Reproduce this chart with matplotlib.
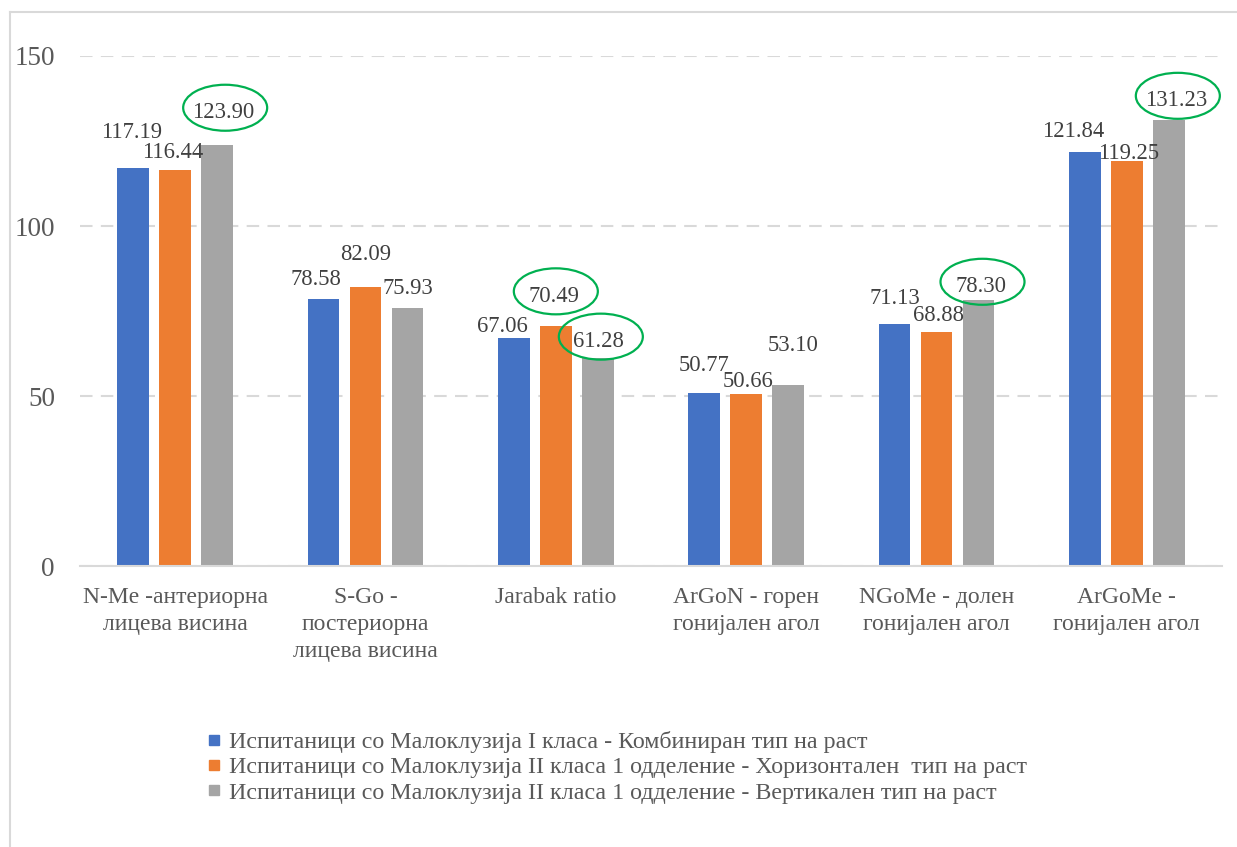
import numpy as np
import matplotlib
matplotlib.use("Agg")
import matplotlib.pyplot as plt
import matplotlib.transforms as mtransforms
from matplotlib.patches import Ellipse
from matplotlib.lines import Line2D

plt.rcParams['font.family'] = ['Liberation Serif', 'DejaVu Serif']

# data
categories = [
    "N-Me -антериорна\nлицева висина",
    "S-Go -\nпостериорна\nлицева висина",
    "Jarabak ratio",
    "ArGoN - горен\nгонијален агол",
    "NGoMe - долен\nгонијален агол",
    "ArGoMe -\nгонијален агол",
]
series_names = [
    "Испитаници со Малоклузија I класа - Комбиниран тип на раст",
    "Испитаници со Малоклузија II класа 1 одделение - Хоризонтален  тип на раст",
    "Испитаници со Малоклузија II класа 1 одделение - Вертикален тип на раст",
]
class1_combined = [117.19, 78.58, 67.06, 50.77, 71.13, 121.84]
class2_horizontal = [116.44, 82.09, 70.49, 50.66, 68.88, 119.25]
class2_vertical = [123.90, 75.93, 61.28, 53.10, 78.30, 131.23]
y_ticks = [0, 50, 100, 150]

# label placement (pixel offsets from bar top) and circled labels
label_offsets = [
    [(-2, 35), (-8, 19), (-11, 11), (0, 28), (0, 26), (-12, 20)],
    [(-2, 18), (0, 32), (-2, 30), (2, 12), (2, 16), (2, 7)],
    [(6, 32), (0, 19), (1, 16), (5, 40), (2, 13), (7, 19)],
]
circled = {(2, 0), (1, 2), (2, 2), (2, 4), (2, 5)}

colors = ['#4472C4', '#ED7D31', '#A5A5A5']
text_dark = '#404040'
text_gray = '#595959'
grid_col = '#D9D9D9'

W, H = 1237, 847
fig = plt.figure(figsize=(W / 100, H / 100), dpi=100)
ax = fig.add_axes([80 / W, 1 - 566 / H, (1222 - 80) / W, (566 - 56) / H])

# outer chart frame
fig.add_artist(Line2D([10 / W, 10 / W], [0, 1 - 12 / H], color=grid_col, lw=1.5,
                      transform=fig.transFigure))
fig.add_artist(Line2D([10 / W, 1], [1 - 12 / H, 1 - 12 / H], color=grid_col, lw=1.5,
                      transform=fig.transFigure))

x = np.arange(len(categories))
step = 0.2207
width = 0.168
all_series = [class1_combined, class2_horizontal, class2_vertical]

for i, vals in enumerate(all_series):
    xs = x + (i - 1) * step
    ax.bar(xs, vals, width=width, color=colors[i], zorder=3, label=series_names[i])
    for j, (xv, v) in enumerate(zip(xs, vals)):
        dx, dy = label_offsets[i][j]
        ax.annotate(f"{v:.2f}", xy=(xv, v), xytext=(dx, dy), textcoords='offset pixels',
                    ha='center', va='center', fontsize=16.3, color=text_dark, zorder=5)
        if (i, j) in circled:
            tr = mtransforms.Affine2D().translate(dx + 2, dy + 5) + \
                mtransforms.ScaledTranslation(xv, v, ax.transData)
            ax.add_patch(Ellipse((0, 0), 84, 46, fill=False, edgecolor='#00B050',
                                 lw=1.6, transform=tr, clip_on=False, zorder=6))

ax.set_xlim(-0.5, len(categories) - 0.5)
ax.set_ylim(0, 150)
ax.set_yticks(y_ticks)
ax.yaxis.grid(True, color=grid_col, lw=1.5, linestyle=(0, (6, 4)), zorder=0)
ax.set_xticks(x)
ax.set_xticklabels(categories, fontsize=17, color=text_gray, linespacing=1.38)
ax.tick_params(axis='y', length=0, pad=18, labelsize=19.5, labelcolor=text_gray)
ax.tick_params(axis='x', length=0, pad=15)
for s in ['top', 'right', 'left']:
    ax.spines[s].set_visible(False)
ax.spines['bottom'].set_color(grid_col)
ax.spines['bottom'].set_linewidth(1.5)
ax.spines['bottom'].set_zorder(4)

handles = [Line2D([], [], marker='s', linestyle='none', markersize=7,
                  markerfacecolor=c, markeredgecolor=c) for c in colors]
fig.legend(handles, series_names, loc='upper left', bbox_to_anchor=(207 / W, 1 - 731 / H),
           frameon=False, fontsize=17.3, labelcolor=text_gray, handlelength=0.6,
           handletextpad=0.3, labelspacing=0.15, borderpad=0, borderaxespad=0)

fig.savefig("out.png", dpi=100)
